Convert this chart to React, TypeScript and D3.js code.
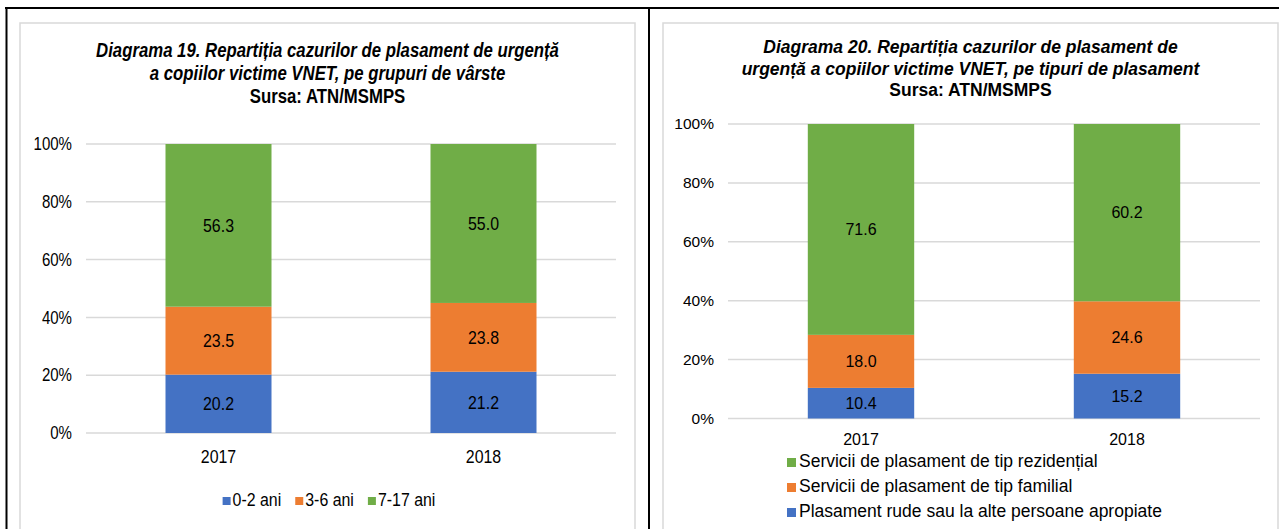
import React, { useEffect, useRef } from 'react';
import * as d3 from 'd3';

// categories
const years = ['2017', '2018'];

// Diagrama 19 - age groups
const ageGroups = ['0-2 ani', '3-6 ani', '7-17 ani'];
const age02 = [20.2, 21.2];
const age36 = [23.5, 23.8];
const age717 = [56.3, 55.0];

// Diagrama 20 - placement types (bottom to top)
const placementTypes = [
  'Plasament rude sau la alte persoane apropiate',
  'Servicii de plasament de tip familial',
  'Servicii de plasament de tip rezidențial',
];
const rude = [10.4, 15.2];
const familial = [18.0, 24.6];
const rezidential = [71.6, 60.2];

const yTicks = [0, 20, 40, 60, 80, 100];

const title19 = [
  'Diagrama 19. Repartiția cazurilor de plasament de urgență',
  'a copiilor victime VNET, pe grupuri de vârste',
  'Sursa: ATN/MSMPS',
];
const title20 = [
  'Diagrama 20. Repartiția cazurilor de plasament de',
  'urgență a copiilor victime VNET, pe tipuri de plasament',
  'Sursa: ATN/MSMPS',
];

const colors = ['#4472c4', '#ed7d31', '#70ad47'];
const FONT = '"Liberation Sans", Arial, sans-serif';

// text placed at (x,y), squeezed horizontally by sx (left picture is a bit condensed)
const place = (x, y, sx) => `translate(${x},${y}) scale(${sx},1)`;

const drawChart = (svg, cfg) => {
  const g = svg.append('g');
  const sx = cfg.sx;

  // chart frame
  g.append('rect')
    .attr('x', cfg.frame[0])
    .attr('y', cfg.frame[1])
    .attr('width', cfg.frame[2])
    .attr('height', 600)
    .attr('fill', '#fff')
    .attr('stroke', '#d9d9d9')
    .attr('stroke-width', 1.5);

  // title
  const cx = cfg.frame[0] + cfg.frame[2] / 2;
  cfg.title.forEach((line, i) => {
    g.append('text')
      .attr('transform', place(cx, cfg.titleY[i], sx))
      .attr('text-anchor', 'middle')
      .attr('font-family', FONT)
      .attr('font-size', cfg.titleSize)
      .attr('font-weight', 'bold')
      .attr('font-style', i < 2 ? 'italic' : 'normal')
      .attr('fill', '#000')
      .text(line);
  });

  const x = d3.scaleBand().domain(years).range([cfg.plot.left, cfg.plot.right]).padding(0);
  const y = d3.scaleLinear().domain([0, 100]).range([cfg.plot.bottom, cfg.plot.top]);

  // gridlines
  g.append('g').selectAll('line')
    .data(yTicks)
    .enter().append('line')
    .attr('x1', cfg.plot.left)
    .attr('x2', cfg.plot.right)
    .attr('y1', d => y(d))
    .attr('y2', d => y(d))
    .attr('stroke', '#d9d9d9')
    .attr('stroke-width', 1.5);

  g.append('g').selectAll('text')
    .data(yTicks)
    .enter().append('text')
    .attr('transform', d => place(cfg.tickX, y(d), sx))
    .attr('dy', '0.35em')
    .attr('text-anchor', 'end')
    .attr('font-family', FONT)
    .attr('font-size', cfg.tickSize)
    .attr('fill', '#000')
    .text(d => d + '%');

  // stacked bars
  const keys = ['s0', 's1', 's2'];
  const table = years.map((yr, i) => ({ year: yr, s0: cfg.series[0][i], s1: cfg.series[1][i], s2: cfg.series[2][i] }));
  const stacked = d3.stack().keys(keys)(table);
  const bw = x.bandwidth() * 0.4;

  stacked.forEach((layer, li) => {
    const lg = g.append('g');
    lg.selectAll('rect')
      .data(layer)
      .enter().append('rect')
      .attr('x', d => x(d.data.year) + (x.bandwidth() - bw) / 2)
      .attr('y', d => y(d[1]))
      .attr('width', bw)
      .attr('height', d => y(d[0]) - y(d[1]))
      .attr('fill', colors[li]);
    lg.selectAll('text')
      .data(layer)
      .enter().append('text')
      .attr('transform', d => place(x(d.data.year) + x.bandwidth() / 2, (y(d[0]) + y(d[1])) / 2, sx))
      .attr('dy', '0.35em')
      .attr('text-anchor', 'middle')
      .attr('font-family', FONT)
      .attr('font-size', cfg.labelSize)
      .attr('fill', '#000')
      .text(d => (d[1] - d[0]).toFixed(1));
  });

  // x labels
  g.append('g').selectAll('text')
    .data(years)
    .enter().append('text')
    .attr('transform', d => place(x(d) + x.bandwidth() / 2, cfg.xLabelY, sx))
    .attr('text-anchor', 'middle')
    .attr('font-family', FONT)
    .attr('font-size', cfg.labelSize)
    .attr('fill', '#000')
    .text(d => d);

  return g;
};

const App = () => {
  const ref = useRef(null);

  useEffect(() => {
    const svg = d3.select(ref.current);
    svg.selectAll('*').remove();

    svg.append('rect').attr('width', 1279).attr('height', 529).attr('fill', '#fff');

    // left chart
    const lsx = 0.86;
    const left = drawChart(svg, {
      frame: [20, 23, 615],
      sx: lsx,
      title: title19,
      titleY: [57, 80, 103],
      titleSize: 19.5,
      tickSize: 17.5,
      labelSize: 18.5,
      plot: { left: 86, right: 616, top: 144, bottom: 433 },
      tickX: 72,
      series: [age02, age36, age717],
      xLabelY: 463,
    });

    // horizontal legend, centred under the chart
    const legend = left.append('g');
    let lx = 0;
    ageGroups.forEach((name, i) => {
      legend.append('rect')
        .attr('x', lx).attr('y', 497).attr('width', 8).attr('height', 8)
        .attr('fill', colors[i]);
      const t = legend.append('text')
        .attr('transform', place(lx + 10, 505.5, lsx))
        .attr('font-family', FONT).attr('font-size', 18.5).attr('fill', '#000')
        .text(name);
      lx += 10 + t.node().getComputedTextLength() * lsx + 14;
    });
    const legendW = lx - 14;
    legend.attr('transform', `translate(${329 - legendW / 2},0)`);

    // right chart
    const right = drawChart(svg, {
      frame: [663, 23, 615],
      sx: 1,
      title: title20,
      titleY: [53, 75, 96],
      titleSize: 17.5,
      tickSize: 15.5,
      labelSize: 16,
      plot: { left: 728, right: 1260, top: 124, bottom: 418.5 },
      tickX: 714,
      series: [rude, familial, rezidential],
      xLabelY: 445,
    });

    // vertical legend, top item is the top series
    const order = [2, 1, 0];
    order.forEach((si, row) => {
      right.append('rect')
        .attr('x', 787).attr('y', 458 + row * 25).attr('width', 9).attr('height', 9)
        .attr('fill', colors[si]);
      right.append('text')
        .attr('x', 799).attr('y', 467 + row * 25)
        .attr('font-family', FONT).attr('font-size', 17.5).attr('fill', '#000')
        .text(placementTypes[si]);
    });

    // black table borders
    const borders = svg.append('g').attr('stroke', '#000').attr('stroke-width', 2);
    borders.append('line').attr('x1', 5).attr('x2', 1279).attr('y1', 8).attr('y2', 8);
    borders.append('line').attr('x1', 6.5).attr('x2', 6.5).attr('y1', 7).attr('y2', 529);
    borders.append('line').attr('x1', 649).attr('x2', 649).attr('y1', 7).attr('y2', 529);
  }, []);

  return (
    <svg
      ref={ref}
      width={1279}
      height={529}
      style={{ position: 'absolute', left: 0, top: 0, display: 'block' }}
    />
  );
};

export default App;
